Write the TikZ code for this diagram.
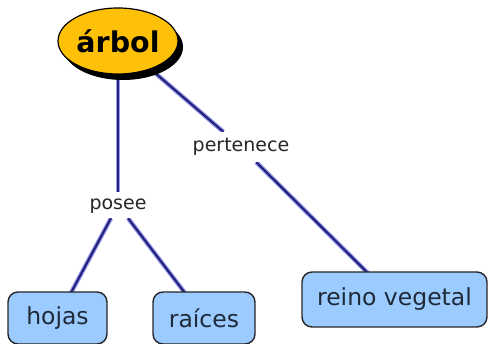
\documentclass[tikz,border=0pt]{standalone}
\usepackage{fontspec}
\setmainfont{DejaVu Sans}
\usetikzlibrary{shapes.geometric,shadows,backgrounds}

\definecolor{conceptblue}{HTML}{9CCBFF}
\definecolor{rootgold}{HTML}{FFC107}
\definecolor{linkcore}{HTML}{24237A}
\definecolor{linkhalo}{HTML}{9A9AF0}
\definecolor{conceptink}{HTML}{1E2A38}

\tikzset{
  rootnode/.style={ellipse, draw=black, line width=1.2pt, fill=rootgold,
    minimum width=120pt, minimum height=66pt, inner sep=0pt,
    font=\fontsize{28.5}{32}\selectfont\bfseries,
    general shadow={fill=black, shadow xshift=5pt, shadow yshift=-6pt}},
  conceptbox/.style={rectangle, rounded corners=10pt, draw=black!85,
    line width=1.4pt, fill=conceptblue, inner sep=0pt,
    font=\fontsize{23.5}{27}\selectfont, text=conceptink},
  linklabel/.style={rectangle, fill=white, inner xsep=2pt,
    text height=14pt, text depth=4pt,
    font=\fontsize{19}{22}\selectfont, text=black!85},
  linkline/.style={draw=linkhalo, line width=4.5pt,
    postaction={draw=linkcore, line width=2.2pt}}
}

\begin{document}
\begin{tikzpicture}[x=1pt, y=-1pt]
  \useasboundingbox (0,0) rectangle (488,344);

  % concepts
  \node[rootnode] (arbol) at (118,41) {árbol};
  \node[conceptbox, minimum width=99pt, minimum height=52pt] (hojas) at (57.5,318) {hojas};
  \node[conceptbox, minimum width=102pt, minimum height=52pt] (raices) at (204,318) {raíces};
  \node[conceptbox, minimum width=185pt, minimum height=55pt] (reino) at (394.5,299.5) {reino vegetal};

  % linking phrases
  \node[linklabel, inner ysep=4pt] (posee) at (118,205) {posee};
  \node[linklabel, inner ysep=6pt] (pertenece) at (241,147) {pertenece};

  % connectors, kept behind the shapes
  \begin{scope}[on background layer]
    \path[linkline] (arbol.center) -- (posee);
    \path[linkline] (posee) -- (hojas.center);
    \path[linkline] (posee) -- (raices.center);
    \path[linkline] (arbol.center) -- (pertenece);
    \path[linkline] (pertenece) -- (reino.center);
  \end{scope}
\end{tikzpicture}
\end{document}
